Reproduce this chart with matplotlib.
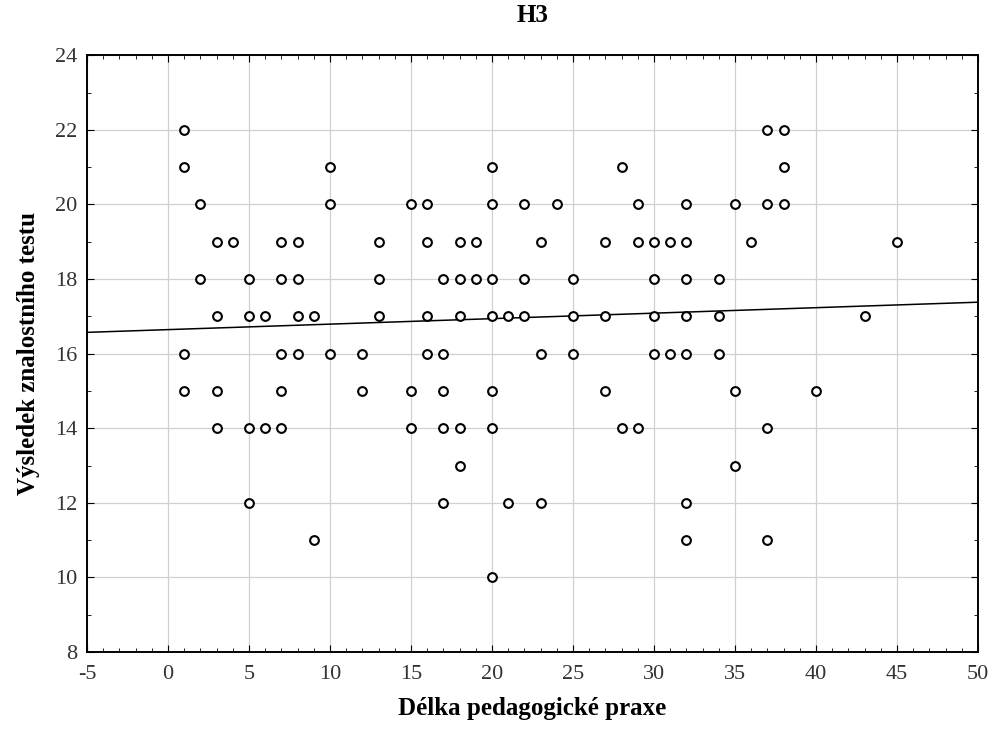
import matplotlib
matplotlib.use('Agg')
import matplotlib.pyplot as plt
import numpy as np
from matplotlib.ticker import MultipleLocator

# praxe (x) for each test score (y)
score_22 = [1, 37, 38]
score_21 = [1, 10, 20, 28, 38]
score_20 = [2, 10, 15, 16, 20, 22, 24, 29, 32, 35, 37, 38]
score_19 = [3, 4, 7, 8, 13, 16, 18, 19, 23, 27, 29, 30, 31, 32, 36, 45]
score_18 = [2, 5, 7, 8, 13, 17, 18, 19, 20, 22, 25, 30, 32, 34]
score_17 = [3, 5, 6, 8, 9, 13, 16, 18, 20, 21, 22, 25, 27, 30, 32, 34, 43]
score_16 = [1, 7, 8, 10, 12, 16, 17, 23, 25, 30, 31, 32, 34]
score_15 = [1, 3, 7, 12, 15, 17, 20, 27, 35, 40]
score_14 = [3, 5, 6, 7, 15, 17, 18, 20, 28, 29, 37]
score_13 = [18, 35]
score_12 = [5, 17, 21, 23, 32]
score_11 = [9, 32, 37]
score_10 = [20]

groups = {22: score_22, 21: score_21, 20: score_20, 19: score_19, 18: score_18,
          17: score_17, 16: score_16, 15: score_15, 14: score_14, 13: score_13,
          12: score_12, 11: score_11, 10: score_10}

x = np.array([px for s, xs in groups.items() for px in xs], dtype=float)
y = np.array([s for s, xs in groups.items() for _ in xs], dtype=float)

plt.rcParams['font.family'] = ['Liberation Serif', 'DejaVu Serif']
plt.rcParams['axes.unicode_minus'] = False

fig = plt.figure(figsize=(9.97, 7.36), dpi=100)
ax = fig.add_axes([0.0873, 0.114, 0.8937, 0.811])

k, q = np.polyfit(x, y, 1)
xl = np.array([-5, 50])
ax.plot(xl, k * xl + q, color='black', lw=1.1, zorder=2)

ax.plot(x, y, 'o', ms=6.3, mfc='white', mec='black', mew=1.5, zorder=3)

ax.set_xlim(-5, 50)
ax.set_ylim(8, 24)
ax.xaxis.set_major_locator(MultipleLocator(5))
ax.xaxis.set_minor_locator(MultipleLocator(1))
ax.yaxis.set_major_locator(MultipleLocator(2))
ax.yaxis.set_minor_locator(MultipleLocator(1))
ax.grid(True, which='major', color='#d0d0d0', lw=0.9, zorder=0)
ax.set_axisbelow(True)
ax.tick_params(which='both', direction='in', top=True, right=True,
               labelsize=16, labelcolor='#333333')
ax.tick_params(axis='x', which='major', pad=9)
ax.tick_params(axis='y', which='major', pad=7)
ax.tick_params(which='major', length=5)
ax.tick_params(which='minor', length=3)
for sp in ax.spines.values():
    sp.set_linewidth(1.4)

ax.set_title('H3', fontsize=18, fontweight='bold', pad=24)
ax.set_xlabel('Délka pedagogické praxe', fontsize=18, fontweight='bold', labelpad=10)
ax.set_ylabel('Výsledek znalostního testu', fontsize=18, fontweight='bold', labelpad=11)

fig.savefig('out.png', dpi=100)
